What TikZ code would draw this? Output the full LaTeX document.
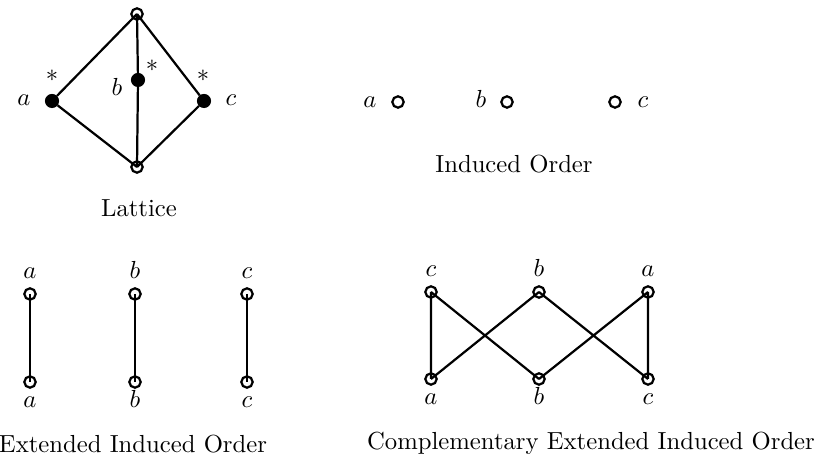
\documentclass[tikz,border=0pt]{standalone}
\begin{document}
\begin{tikzpicture}[x=0.405pt,y=-0.405pt,
  oc/.style={circle,draw,line width=0.9pt,inner sep=0pt,minimum size=4.6pt},
  fc/.style={circle,draw,line width=0.9pt,inner sep=0pt,minimum size=4.8pt,fill=black},
  lbl/.style={anchor=base,inner sep=0pt},
  captext/.style={inner sep=0pt},
  ln/.style={line width=0.9pt}]
\useasboundingbox (0,0) rectangle (826,463);
% Lattice
\node[oc] (top) at (137,14) {};
\node[oc] (bot) at (137,167) {};
\node[fc] (la) at (52,101) {};
\node[fc] (lb) at (138,80) {};
\node[fc] (lc) at (204,101) {};
\draw[ln] (top.center) -- (la) (top.center) -- (lb) (top.center) -- (lc)
  (la) -- (bot.center) (lb) -- (bot.center) (lc) -- (bot.center);
\node[lbl] (tla) at (24,106) {$a$};
\node[lbl] (tlb) at (117,96) {$b$};
\node[lbl] (tlc) at (231,106) {$c$};
\node[captext] (sa) at (52,76) {$*$};
\node[captext] (sb) at (152,66) {$*$};
\node[captext] (sc) at (203,76) {$*$};
\node[captext] (capL) at (139,208) {Lattice};
% Induced order
\node[oc] (ia) at (398,102) {};
\node[oc] (ib) at (507,102) {};
\node[oc] (ic) at (615,102) {};
\node[lbl] (tia) at (370,108) {$a$};
\node[lbl] (tib) at (481,108) {$b$};
\node[lbl] (tic) at (643,108) {$c$};
\node[captext] (capI) at (514,164) {Induced Order};
% Extended induced order
\foreach \n/\x/\l in {ea/30/a,eb/135/b,ec/247/c}{
  \node[oc] (\n1) at (\x,294) {};
  \node[oc] (\n2) at (\x,382) {};
  \draw[ln] (\n1.center) -- (\n2.center);
  \node[lbl] (\n t) at (\x,279) {$\l$};
  \node[lbl] (\n b) at (\x,408) {$\l$};
}
\node[captext] (capE) at (133,444) {Extended Induced Order};
% Complementary extended induced order
\node[oc] (c1) at (431,292) {};
\node[oc] (c2) at (539,292) {};
\node[oc] (c3) at (648,292) {};
\node[oc] (d1) at (431,379) {};
\node[oc] (d2) at (539,379) {};
\node[oc] (d3) at (648,379) {};
\draw[ln] (c1.center) -- (d1.center) (c1.center) -- (d2.center)
  (c2.center) -- (d1.center) (c2.center) -- (d3.center)
  (c3.center) -- (d2.center) (c3.center) -- (d3.center);
\node[lbl] (tc1) at (431,277) {$c$};
\node[lbl] (tc2) at (539,277) {$b$};
\node[lbl] (tc3) at (648,277) {$a$};
\node[lbl] (td1) at (431,405) {$a$};
\node[lbl] (td2) at (539,405) {$b$};
\node[lbl] (td3) at (648,405) {$c$};
\node[captext] (capC) at (591,443) {Complementary Extended Induced Order};
\end{tikzpicture}
\end{document}
